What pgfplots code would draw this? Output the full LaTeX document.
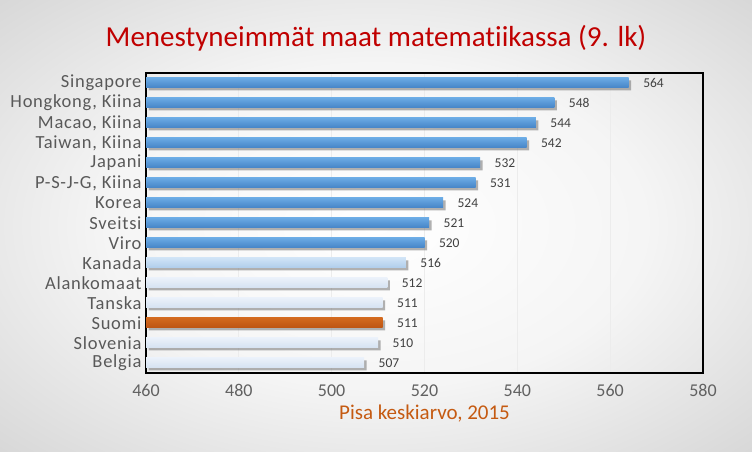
\documentclass[border=0pt]{standalone}
\usepackage{pgfplots}
\pgfplotsset{compat=1.18}
\usepackage{fontspec}
\setmainfont{Carlito}[Ligatures=NoCommon]
\newfontfamily\spaced[LetterSpace=4,Ligatures=NoCommon]{Carlito}
\definecolor{titlered}{HTML}{C00000}
\definecolor{xlab}{HTML}{C55A11}
\definecolor{tick}{HTML}{404040}
\definecolor{ylab}{HTML}{595959}
\definecolor{blueT}{HTML}{6AAAE4}
\definecolor{blueB}{HTML}{4583C6}
\definecolor{lblueT}{HTML}{CFE3F6}
\definecolor{lblueB}{HTML}{AFCDEB}
\definecolor{pale}{HTML}{EAF1FA}
\definecolor{paleB}{HTML}{D5E2F1}
\definecolor{orT}{HTML}{D2691E}
\definecolor{orB}{HTML}{BD5412}
\pgfdeclareradialshading{bgshade}{\pgfpoint{0bp}{0bp}}{%
  color(0bp)=(white); color(18bp)=(white!96!black); color(50bp)=(black!25); color(72bp)=(black!42)}
\begin{document}
\begin{tikzpicture}
\shade[shading=bgshade] (0,0) rectangle (752bp,452bp);
\node[font=\fontsize{29bp}{32bp}\selectfont, text=titlered] at (376bp,414bp) {Menestyneimmät maat matematiikassa (9. lk)};
\begin{axis}[
  at={(146bp,79bp)}, anchor=south west,
  scale only axis, width=557bp, height=300bp,
  xmin=460, xmax=580, ymin=-0.5, ymax=14.5,
  xtick={460,480,...,580},
  ytick={0,...,14},
  yticklabels={Belgia,Slovenia,Suomi,Tanska,Alankomaat,Kanada,Viro,Sveitsi,Korea,{P-S-J-G, Kiina},Japani,{Taiwan, Kiina},{Macao, Kiina},{Hongkong, Kiina},Singapore},
  xmajorgrids, grid style={white!85!gray, line width=0.8bp},
  axis line style={black, line width=1.6bp},
  major tick length=0pt,
  xticklabel style={font=\fontsize{18bp}{20bp}\selectfont, text=black!62, yshift=-8bp},
  yticklabel style={font=\spaced\fontsize{18.5bp}{20bp}\selectfont, text=ylab, xshift=-1bp},
  xlabel={Pisa keskiarvo, 2015},
  xlabel style={font=\fontsize{21bp}{23bp}\selectfont, text=xlab, yshift=-1bp},
  /pgf/number format/assume math mode=true,
  xbar, bar width=10bp, bar shift=0pt,
  nodes near coords,
  every node near coord/.append style={font=\fontsize{13.5bp}{15bp}\selectfont, text=tick, xshift=11bp},
]
% shadows
\addplot[xbar, draw=none, fill=black!55, opacity=0.55, bar shift=-2.5bp, xshift=2.5bp, nodes near coords=\empty] coordinates {
(564,14) (548,13) (544,12) (542,11) (532,10) (531,9) (524,8) (521,7) (520,6) (516,5) (512,4) (511,3) (511,2) (510,1) (507,0)};
\addplot[xbar, draw=none, top color=blueT, bottom color=blueB] coordinates {(564,14)};
\addplot[xbar, draw=none, top color=blueT, bottom color=blueB] coordinates {(548,13)};
\addplot[xbar, draw=none, top color=blueT, bottom color=blueB] coordinates {(544,12)};
\addplot[xbar, draw=none, top color=blueT, bottom color=blueB] coordinates {(542,11)};
\addplot[xbar, draw=none, top color=blueT, bottom color=blueB] coordinates {(532,10)};
\addplot[xbar, draw=none, top color=blueT, bottom color=blueB] coordinates {(531,9)};
\addplot[xbar, draw=none, top color=blueT, bottom color=blueB] coordinates {(524,8)};
\addplot[xbar, draw=none, top color=blueT, bottom color=blueB] coordinates {(521,7)};
\addplot[xbar, draw=none, top color=blueT, bottom color=blueB] coordinates {(520,6)};
\addplot[xbar, draw=none, top color=lblueT, bottom color=lblueB] coordinates {(516,5)};
\addplot[xbar, draw=none, top color=pale, bottom color=paleB] coordinates {(512,4)};
\addplot[xbar, draw=none, top color=pale, bottom color=paleB] coordinates {(511,3)};
\addplot[xbar, draw=none, top color=orT, bottom color=orB] coordinates {(511,2)};
\addplot[xbar, draw=none, top color=pale, bottom color=paleB] coordinates {(510,1)};
\addplot[xbar, draw=none, top color=pale, bottom color=paleB] coordinates {(507,0)};
\end{axis}
\end{tikzpicture}
\end{document}
